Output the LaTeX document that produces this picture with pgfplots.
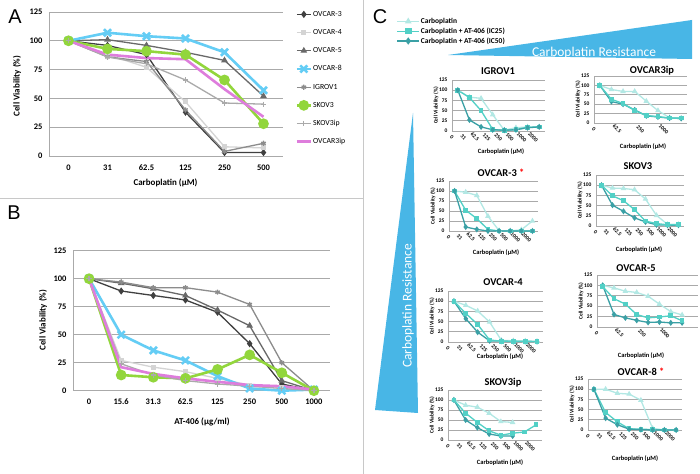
\documentclass[border=0pt]{standalone}
\usepackage{fontspec}
\setmainfont{Carlito}
\newfontfamily\labfont{Liberation Sans}
\usepackage{pgfplots}
\pgfplotsset{compat=1.18}
\usepackage{pgfplotstable}

\definecolor{cOiii}{RGB}{64,64,64}
\definecolor{cOiv}{RGB}{212,212,212}
\definecolor{cOv}{RGB}{105,105,105}
\definecolor{cOviii}{RGB}{100,205,245}
\definecolor{cIG}{RGB}{140,140,140}
\definecolor{cSiii}{RGB}{146,214,60}
\definecolor{cSip}{RGB}{170,170,170}
\definecolor{cOip}{RGB}{222,125,220}
\definecolor{cCa}{RGB}{178,232,228}
\definecolor{cIa}{RGB}{82,208,198}
\definecolor{cIb}{RGB}{58,160,165}
\definecolor{wedge}{RGB}{72,182,230}
\definecolor{gridc}{RGB}{170,170,170}
\definecolor{sepc}{RGB}{200,200,200}

\pgfplotstableread{
x o3 o4 o5 o8 ig s3 s3ip o3ip
0 100 100 100 100 100 100 100 100
1 96 88 101 107 86 93 86 88
2 88 77 96 104 82 91 80 85
3 38 47 90 102 40 88 66 84
4 3 8 83 90 4 66 46 58
5 3 7 52 57 11 28 45 34
}\dataA

\pgfplotstableread{
x o3 o4 o5 o8 ig s3 s3ip o3ip
0 100 100 100 100 100 100 100 100
1 89 27 96 50 97 14 24 21
2 85 21 91 36 92 12 14 15
3 81 17 85 27 92 11 9 11
4 70 11 72 13 88 19 6 8
5 42 5 58 2 77 32 4 5
6 6 3 9 0 25 16 2 4
7 0 0 0 1 0 0 0 1
}\dataB

\pgfplotsset{
 base/.style={scale only axis, anchor=south west, clip=false,
   ymin=0, ymax=125, ytick={0,25,50,75,100,125},
   axis x line*=bottom, axis y line*=left,
   axis line style={draw=gridc, line width=0.8bp, -},
   ymajorgrids, grid style={draw=gridc, line width=0.8bp},
   major tick length=0pt,
   /pgf/number format/assume math mode=true,
 },
 big/.style={base, xmin=-0.5,
   tick label style={font=\fontsize{8.5}{10}\selectfont\bfseries},
   yticklabel style={xshift=-3bp},
   xticklabel style={yshift=-5bp},
 },
 small/.style={base, xmin=-0.5, xmax=7.5, xtick={0,...,7},
   xticklabels={0,31,62.5,125,250,500,1000,2000},
   tick label style={font=\fontsize{5.5}{6}\selectfont\bfseries},
   yticklabel style={xshift=-1bp},
   xticklabel style={rotate=-45, anchor=center, yshift=-8.5bp},
   grid style={draw=gridc, line width=0.7bp},
   axis line style={draw=gridc, line width=0.7bp, -},
 },
 ca/.style={cCa, line width=1.3bp, mark=triangle*, mark size=2bp},
 ia/.style={cIa, line width=1.3bp, mark=square*, mark size=1.7bp},
 ib/.style={cIb, line width=1.3bp, mark=diamond*, mark size=2bp},
}

\begin{document}
\begin{tikzpicture}
\useasboundingbox (0,0) rectangle (700bp,474bp);
\fill[white] (0,0) rectangle (700bp,474bp);
% separators
\draw[sepc, line width=0.8bp] (0,276bp) -- (363bp,276bp);
\draw[sepc, line width=0.8bp] (363bp,0) -- (363bp,474bp);

% ---------- Panel A ----------
\begin{axis}[big, at={(49bp,318bp)}, width=234bp, height=144bp,
  xmax=5.5, xtick={0,...,5}, xticklabels={0,31,62.5,125,250,500},
  legend style={at={(rel axis cs:1.04,1.03)}, anchor=north west, draw=none, fill=none,
    font=\fontsize{7.8}{8}\selectfont, row sep=9.2bp,
    nodes={inner sep=1bp, text height=5.5bp, text depth=1.5bp}},
  legend cell align=left,
  legend image code/.code={\draw[mark repeat=2,mark phase=2,#1] plot coordinates {(0bp,0bp)(7bp,0bp)(14bp,0bp)};}]
\addplot[cOiii, line width=1.3bp, mark=diamond*, mark size=2.6bp] table[x=x,y=o3]{\dataA};
\addlegendentry{OVCAR-3}
\addplot[cOiv, line width=1.3bp, mark=square*, mark size=1.8bp] table[x=x,y=o4]{\dataA};
\addlegendentry{OVCAR-4}
\addplot[cOv, line width=1.3bp, mark=triangle*, mark size=2.6bp] table[x=x,y=o5]{\dataA};
\addlegendentry{OVCAR-5}
\addplot[cOviii, line width=2.6bp, mark=x, mark size=5bp] table[x=x,y=o8]{\dataA};
\addlegendentry{OVCAR-8}
\addplot[cIG, line width=1.3bp, mark=asterisk, mark size=2.6bp] table[x=x,y=ig]{\dataA};
\addlegendentry{IGROV1}
\addplot[cSiii, line width=2.6bp, mark=*, mark size=4bp] table[x=x,y=s3]{\dataA};
\addlegendentry{SKOV3}
\addplot[cSip, line width=1.3bp, mark=+, mark size=2.6bp] table[x=x,y=s3ip]{\dataA};
\addlegendentry{SKOV3ip}
\addplot[cOip, line width=2.6bp, no marks] table[x=x,y=o3ip]{\dataA};
\addlegendentry{OVCAR3ip}
\end{axis}

% ---------- Panel B ----------
\begin{axis}[big, at={(73bp,83.3bp)}, width=257bp, height=140bp,
  xmax=7.5, xtick={0,...,7}, xticklabels={0,15.6,31.3,62.5,125,250,500,1000}]
\addplot[cOiii, line width=1.3bp, mark=diamond*, mark size=2.6bp] table[x=x,y=o3]{\dataB};
\addplot[cOiv, line width=1.3bp, mark=square*, mark size=1.8bp] table[x=x,y=o4]{\dataB};
\addplot[cOv, line width=1.3bp, mark=triangle*, mark size=2.6bp] table[x=x,y=o5]{\dataB};
\addplot[cOviii, line width=2.6bp, mark=x, mark size=5bp] table[x=x,y=o8]{\dataB};
\addplot[cIG, line width=1.3bp, mark=asterisk, mark size=2.6bp] table[x=x,y=ig]{\dataB};
\addplot[cSiii, line width=2.6bp, mark=*, mark size=4bp] table[x=x,y=s3]{\dataB};
\addplot[cSip, line width=1.3bp, mark=+, mark size=2.6bp] table[x=x,y=s3ip]{\dataB};
\addplot[cOip, line width=2.6bp, no marks] table[x=x,y=o3ip]{\dataB};
\end{axis}

% ---------- Panel C: wedges ----------
\fill[wedge] (448bp,419bp) -- (692bp,454bp) -- (692bp,415bp) -- cycle;
\node[white, font=\fontsize{13.5}{14}\selectfont] at (594bp,421bp) {Carboplatin Resistance};
\fill[wedge] (413bp,361bp) -- (418bp,61bp) -- (375bp,64bp) -- cycle;
\node[white, rotate=90, font=\fontsize{13.5}{14}\selectfont] at (408bp,168bp) {Carboplatin Resistance};

% IGROV1 (with legend)
\begin{axis}[small, at={(452bp,343bp)}, width=93bp, height=51bp,
  legend style={at={(rel axis cs:-0.63,2.28)}, anchor=north west, draw=none, fill=none,
    font=\fontsize{7.5}{8}\selectfont\bfseries, row sep=0.8bp,
    nodes={inner sep=1bp, text height=5.5bp, text depth=1.5bp}},
  legend cell align=left,
  legend image code/.code={\draw[mark repeat=2,mark phase=2,#1,mark size=2.6bp] plot coordinates {(0bp,0bp)(11bp,0bp)(22bp,0bp)};}]
\addplot[ca] coordinates {(0,100)(1,83)(2,80)(3,40)(4,2)(5,8)(6,10)(7,10)};
\addlegendentry{Carboplatin}
\addplot[ia] coordinates {(0,100)(1,82)(2,50)(3,4)(4,1)(5,4)(6,9)(7,10)};
\addlegendentry{Carboplatin + AT-406 (IC25)}
\addplot[ib] coordinates {(0,100)(1,27)(2,10)(3,3)(4,2)(5,3)(6,8)(7,10)};
\addlegendentry{Carboplatin + AT-406 (IC50)}
\end{axis}

% OVCAR3ip
\begin{axis}[small, at={(594bp,351bp)}, width=93bp, height=47bp,
  xtick={0,2,4,6}, xticklabels={0,62.5,250,1000}]
\addplot[ca] coordinates {(0,100)(1,89)(2,84)(3,84)(4,58)(5,33)(6,14)(7,12)};
\addplot[ib] coordinates {(0,100)(1,57)(2,50)(3,35)(4,19)(5,16)(6,13)(7,12)};
\addplot[ia] coordinates {(0,100)(1,63)(2,52)(3,33)(4,20)(5,17)(6,13)(7,13)};
\end{axis}

% OVCAR-3
\begin{axis}[small, at={(449bp,243bp)}, width=89bp, height=50bp]
\addplot[ca] coordinates {(0,100)(1,97)(2,89)(3,37)(4,1)(5,0)(6,3)(7,25)};
\addplot[ia] coordinates {(0,100)(1,52)(2,31)(3,4)(4,0)(5,0)(6,0)(7,0)};
\addplot[ib] coordinates {(0,100)(1,10)(2,4)(3,0)(4,0)(5,0)(6,0)(7,0)};
\end{axis}

% SKOV3
\begin{axis}[small, at={(596bp,248bp)}, width=88bp, height=51bp]
\addplot[ca] coordinates {(0,100)(1,93)(2,92)(3,89)(4,66)(5,26)(6,4)(7,4)};
\addplot[ib] coordinates {(0,100)(1,51)(2,36)(3,20)(4,10)(5,3)(6,2)(7,2)};
\addplot[ia] coordinates {(0,100)(1,74)(2,62)(3,40)(4,12)(5,6)(6,3)(7,3)};
\end{axis}

% OVCAR-4
\begin{axis}[small, at={(448bp,132bp)}, width=95bp, height=51bp]
\addplot[ca] coordinates {(0,100)(1,90)(2,76)(3,49)(4,4)(5,3)(6,2)(7,1)};
\addplot[ib] coordinates {(0,100)(1,57)(2,24)(3,3)(4,2)(5,1)(6,1)(7,1)};
\addplot[ia] coordinates {(0,100)(1,70)(2,43)(3,5)(4,2)(5,2)(6,2)(7,1)};
\end{axis}

% OVCAR-5
\begin{axis}[small, at={(597bp,147bp)}, width=101bp, height=52bp, xmax=8.4,
  xtick={0,2,4,6}, xticklabels={0,62.5,250,1000}]
\addplot[ca] coordinates {(0,100)(1,94)(2,86)(3,83)(4,74)(5,55)(6,37)(7,29)};
\addplot[ib] coordinates {(0,100)(1,30)(2,22)(3,16)(4,11)(5,12)(6,10)(7,10)};
\addplot[ia] coordinates {(0,97)(1,68)(2,55)(3,30)(4,22)(5,24)(6,27)(7,15)};
\end{axis}

% SKOV3ip
\begin{axis}[small, at={(448bp,34bp)}, width=94bp, height=50bp]
\addplot[ca] coordinates {(0,100)(1,87)(2,82)(3,67)(4,46)(5,44)};
\addplot[ib] coordinates {(0,100)(1,50)(2,31)(3,15)(4,10)(5,10)};
\addplot[ia] coordinates {(0,100)(1,67)(2,44)(3,23)(4,12)(5,17)(6,20)(7,38)};
\end{axis}

% OVCAR-8
\begin{axis}[small, at={(588bp,44bp)}, width=94bp, height=51bp]
\addplot[ca] coordinates {(0,100)(1,100)(2,90)(3,88)(4,73)(5,4)(6,0)(7,0)};
\addplot[ia] coordinates {(0,100)(1,43)(2,20)(3,3)(4,2)(5,1)(6,0)(7,0)};
\addplot[ib] coordinates {(0,100)(1,29)(2,13)(3,2)(4,1)(5,0)(6,0)(7,0)};
\end{axis}

% ---------- text ----------
\node[font=\labfont\fontsize{20}{20}\selectfont] at (15bp,457bp) {A};
\node[font=\labfont\fontsize{20}{20}\selectfont] at (14bp,261bp) {B};
\node[font=\labfont\fontsize{20}{20}\selectfont] at (380bp,457bp) {C};
\node[rotate=90, font=\fontsize{9}{10}\selectfont\bfseries] at (17bp,388bp) {Cell Viability (\%)};
\node[font=\fontsize{9}{10}\selectfont\bfseries] at (165.5bp,291bp) {Carboplatin (µM)};
\node[rotate=90, font=\fontsize{9}{10}\selectfont\bfseries] at (43bp,154bp) {Cell Viability (\%)};
\node[font=\fontsize{9}{10}\selectfont\bfseries] at (202bp,52bp) {AT-406 (µg/ml)};

\tikzset{ttl/.style={font=\fontsize{10.5}{11}\selectfont\bfseries},
  xl/.style={font=\fontsize{6.5}{7}\selectfont\bfseries},
  yl/.style={rotate=90, font=\fontsize{5.5}{6}\selectfont\bfseries}}
\node[ttl] at (498bp,403bp) {IGROV1};
\node[ttl] at (652bp,403bp) {OVCAR3ip};
\node[ttl] at (501bp,301bp) {OVCAR-3 \textcolor{red}{*}};
\node[ttl] at (638bp,308bp) {SKOV3};
\node[ttl] at (503bp,192bp) {OVCAR-4};
\node[ttl] at (636bp,206bp) {OVCAR-5};
\node[ttl] at (503bp,91bp) {SKOV3ip};
\node[ttl] at (641bp,102bp) {OVCAR-8 \textcolor{red}{*}};

\node[xl] at (501bp,322bp) {Carboplatin (µM)};
\node[xl] at (643bp,327bp) {Carboplatin (µM)};
\node[xl] at (496bp,221bp) {Carboplatin (µM)};
\node[xl] at (639bp,224bp) {Carboplatin (µM)};
\node[xl] at (500bp,117bp) {Carboplatin (µM)};
\node[xl] at (641bp,118bp) {Carboplatin (µM)};
\node[xl] at (500bp,11bp) {Carboplatin (µM)};
\node[xl] at (635bp,15bp) {Carboplatin (µM)};

\node[yl] at (436bp,368.5bp) {Cell Viability (\%)};
\node[yl] at (433bp,268bp) {Cell Viability (\%)};
\node[yl] at (432bp,157.5bp) {Cell Viability (\%)};
\node[yl] at (432bp,59bp) {Cell Viability (\%)};
\node[yl] at (578bp,374.5bp) {Cell Viability (\%)};
\node[yl] at (580bp,273.5bp) {Cell Viability (\%)};
\node[yl] at (581bp,173bp) {Cell Viability (\%)};
\node[yl] at (572bp,69.5bp) {Cell Viability (\%)};
\end{tikzpicture}
\end{document}
